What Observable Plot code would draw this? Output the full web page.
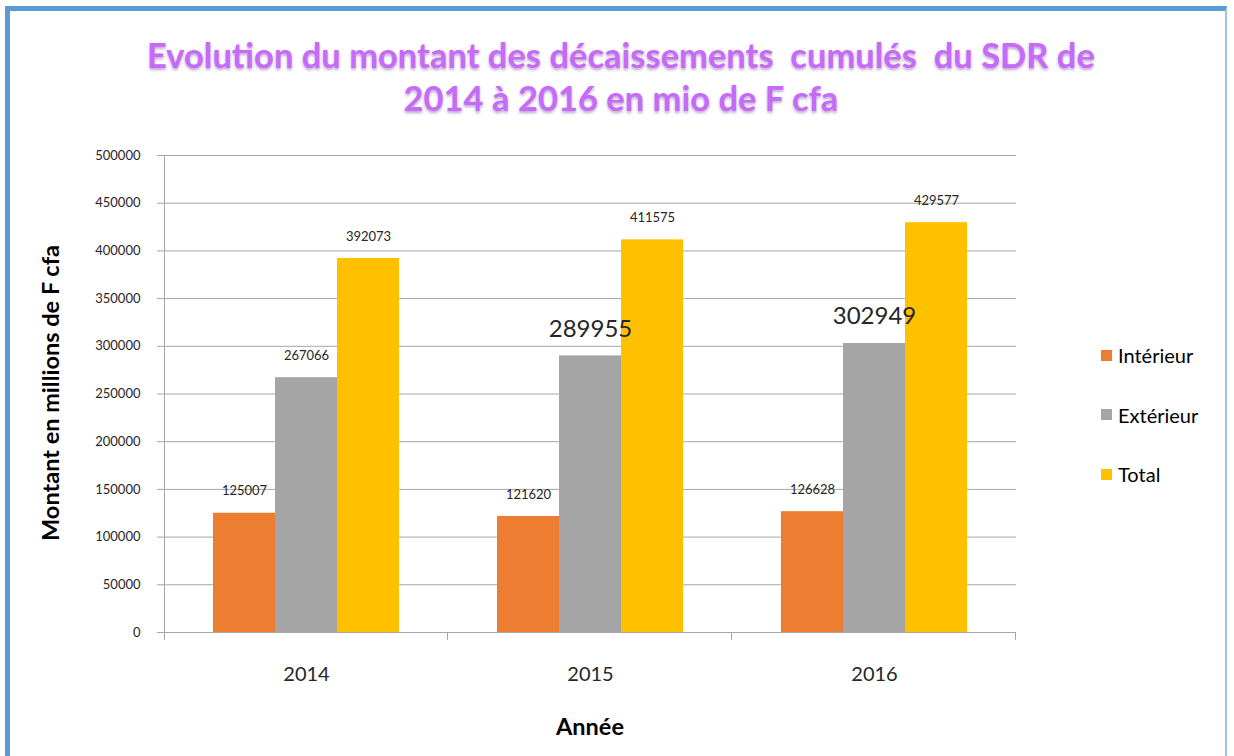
<!DOCTYPE html>
<html><head><meta charset="utf-8">
<script src="https://cdn.jsdelivr.net/npm/d3@7"></script>
<script src="https://cdn.jsdelivr.net/npm/@observablehq/plot@0.6"></script>
<style>
body{margin:0;background:#fff;font-family:Lato,"Open Sans",sans-serif;overflow:hidden;width:1234px;height:756px;position:relative;}
#frame{position:absolute;left:5px;top:6px;width:1222px;height:770px;border-left:5px solid #5b9bd5;border-top:5px solid #5b9bd5;border-right:2px solid #9cc3e5;box-sizing:border-box;}
#title{position:absolute;left:0;width:1242px;top:33px;text-align:center;font-size:34.5px;font-weight:bold;color:#c66af8;line-height:43px;text-shadow:0 2px 3px rgba(110,50,150,0.45);}
#chart{position:absolute;left:0;top:135px;}
#ytitle{position:absolute;left:-200px;top:379px;width:500px;text-align:center;font-size:23.5px;font-weight:bold;color:#000;line-height:28px;transform:rotate(-90deg);transform-origin:center;}
#xtitle{position:absolute;left:390px;top:712px;width:400px;text-align:center;font-size:23.5px;font-weight:bold;color:#000;line-height:28px;}
#legend{position:absolute;left:1101px;top:342px;}
.lg-row{display:flex;align-items:center;height:26px;margin-bottom:33.5px;font-size:20px;color:#000;}
.lg-sw{width:11px;height:11px;margin-right:6px;}
</style>
</head><body>
<div id="frame"></div>
<div id="title">Evolution du montant des décaissements&nbsp; cumulés&nbsp; du SDR de<br>2014 à 2016 en mio de F cfa</div>
<div id="chart"></div>
<div id="ytitle">Montant en millions de F cfa</div>
<div id="xtitle">Année</div>
<div id="legend"></div>
<script>
const years = ["2014", "2015", "2016"];
const series = ["Intérieur", "Extérieur", "Total"];
const interieur = [125007, 121620, 126628];
const exterieur = [267066, 289955, 302949];
const total = [392073, 411575, 429577];
const colors = ["#ed7d31", "#a5a5a5", "#ffc000"];
const yTicks = [0, 50000, 100000, 150000, 200000, 250000, 300000, 350000, 400000, 450000, 500000];

const valuesBySeries = [interieur, exterieur, total];
const data = [];
years.forEach((yr, i) => series.forEach((s, j) => data.push({year: yr, series: s, value: valuesBySeries[j][i]})));

const enlarged = d => d.series === "Extérieur" && d.year !== "2014";

const chart = Plot.plot({
  width: 1234, height: 610,
  marginTop: 20, marginBottom: 113, marginLeft: 164, marginRight: 218,
  style: {background: "transparent", fontFamily: "Lato, 'Open Sans', sans-serif", color: "#262626"},
  fx: {domain: years, padding: 0},
  x: {domain: series, paddingInner: 0, paddingOuter: 0.754, axis: null},
  y: {domain: [0, 500000]},
  color: {domain: series, range: colors},
  marks: [
    Plot.gridY(yTicks, {stroke: "#a6a6a6", strokeOpacity: 1}),
    Plot.axisY(yTicks, {tickSize: 7, tickPadding: 17, stroke: "#a6a6a6", fontSize: 13, fill: "#262626", tickFormat: d3.format("d"), label: null}),
    Plot.axisFx({anchor: "bottom", tickSize: 0, tickPadding: 34, fontSize: 20, fill: "#262626", label: null}),
    Plot.barY(data, {fx: "year", x: "series", y: "value", fill: "series"}),
    Plot.text(data, {filter: d => !enlarged(d), fx: "year", x: "series", y: "value", text: d => String(d.value), dy: -22, fontSize: 13, fill: "#262626"}),
    Plot.text(data, {filter: enlarged, fx: "year", x: "series", y: "value", text: d => String(d.value), dy: -27, fontSize: 24, fill: "#262626"})
  ]
});
document.getElementById("chart").appendChild(chart);

// Excel-style axis line and category boundary ticks, placed with the chart's own scales
const fx = chart.scale("fx"), y = chart.scale("y");
const svg = d3.select(chart);
const y0 = y.apply(0), yTop = y.apply(500000);
const bounds = years.map(yr => fx.apply(yr));
bounds.push(fx.apply(years[years.length - 1]) + fx.bandwidth);
const g = svg.append("g").attr("stroke", "#a6a6a6").attr("stroke-width", 1);
g.append("line").attr("x1", bounds[0] + 0.5).attr("x2", bounds[0] + 0.5).attr("y1", yTop).attr("y2", y0 + 8);
g.append("line").attr("x1", bounds[0]).attr("x2", bounds[bounds.length - 1]).attr("y1", y0 + 0.5).attr("y2", y0 + 0.5);
bounds.slice(1).forEach(b => g.append("line").attr("x1", b - 0.5).attr("x2", b - 0.5).attr("y1", y0).attr("y2", y0 + 8));

// Legend
const color = chart.scale("color");
const leg = document.getElementById("legend");
series.forEach(s => {
  const row = document.createElement("div"); row.className = "lg-row";
  const sw = document.createElement("div"); sw.className = "lg-sw"; sw.style.background = color.apply(s);
  const t = document.createElement("span"); t.textContent = s;
  row.appendChild(sw); row.appendChild(t); leg.appendChild(row);
});
</script>
</body></html>
